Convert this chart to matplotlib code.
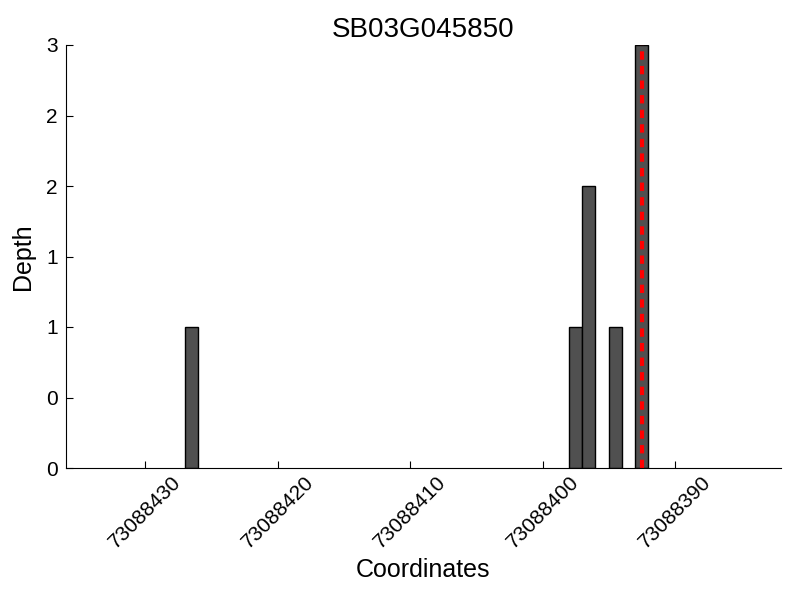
import numpy as np
import matplotlib
matplotlib.use('Agg')
import matplotlib.pyplot as plt
from matplotlib.ticker import FormatStrFormatter

plt.rcParams['font.family'] = ['Liberation Sans', 'DejaVu Sans']

# coverage per position
positions = [73088426, 73088397, 73088396, 73088394, 73088392]
depth = [1, 1, 2, 1, 3]
snp_pos = 73088392.5
x_range = [73088436, 73088382]
gene = 'SB03G045850'

fig = plt.figure(figsize=(8, 6), dpi=100)
ax = fig.add_axes([0.0825, 0.22, 0.8935, 0.705])

ax.bar(positions, depth, width=1, align='edge', color='#505050',
       edgecolor='black', linewidth=1)
ax.axvline(snp_pos, color='red', linestyle=(0, (2, 1.5)), linewidth=3)

ax.set_xlim(x_range[0], x_range[1])
ax.set_ylim(0, 3)
ax.set_xticks([73088430, 73088420, 73088410, 73088400, 73088390])
ax.xaxis.set_major_formatter(FormatStrFormatter('%d'))
ax.set_yticks(np.arange(0, 3.5, 0.5))
ax.yaxis.set_major_formatter(FormatStrFormatter('%d'))

ax.spines['top'].set_visible(False)
ax.spines['right'].set_visible(False)
ax.tick_params(direction='in', length=5, labelsize=15, top=False, right=False)
ax.tick_params(axis='y', pad=6)
plt.setp(ax.get_xticklabels(), rotation=45)

ax.set_title(gene, fontsize=20)
ax.set_xlabel('Coordinates', fontsize=18)
ax.set_ylabel('Depth', fontsize=18, labelpad=8)

fig.savefig('out.png')
